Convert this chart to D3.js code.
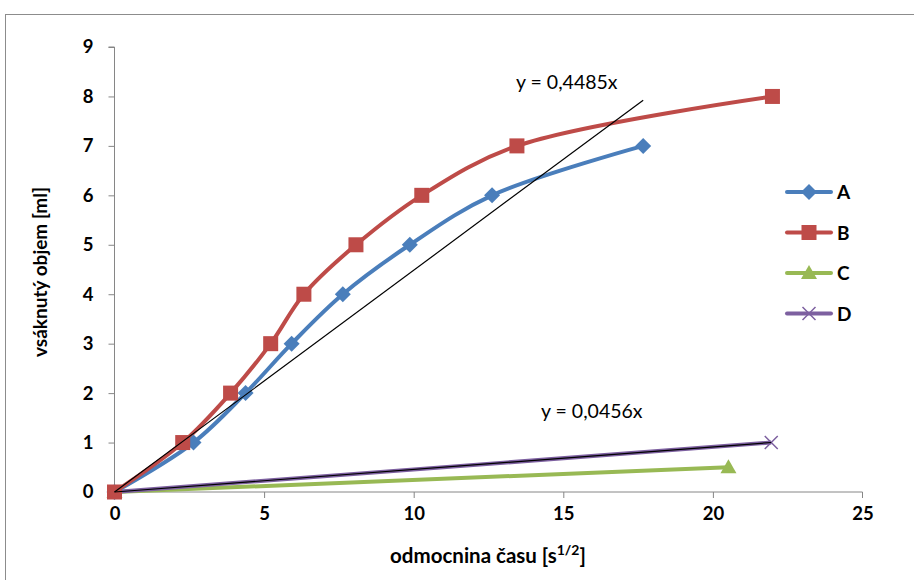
<!DOCTYPE html>
<html><head><meta charset="utf-8">
<script src="https://cdn.jsdelivr.net/npm/d3@7"></script>
<style>body{margin:0;background:#fff}svg{display:block}</style>
</head><body>
<svg id="c" width="914" height="580"></svg>
<script>
const seriesNames = ["A","B","C","D"];
const seriesColors = ["#4A7EBB","#BE4B48","#98B954","#7D60A0"];
const seriesMarkers = ["diamond","square","triangle","x"];
const A_x = [0, 2.64, 4.38, 5.92, 7.63, 9.87, 12.62, 17.67];
const A_y = [0, 1, 2, 3, 4, 5, 6, 7];
const B_x = [0, 2.28, 3.88, 5.22, 6.33, 8.07, 10.27, 13.45, 21.99];
const B_y = [0, 1, 2, 3, 4, 5, 6, 7, 8];
const C_x = [0, 20.52];
const C_y = [0, 0.5];
const D_x = [0, 21.95];
const D_y = [0, 1];
const xTicks = [0,5,10,15,20,25];
const yTicks = [0,1,2,3,4,5,6,7,8,9];
const trend1 = {slope:0.4485, xmax:17.67, label:"y = 0,4485x"};
const trend2 = {slope:0.0456, xmax:21.95, label:"y = 0,0456x"};
const xTitle = "odmocnina času [s";
const yTitle = "vsáknutý objem [ml]";

const svg = d3.select("#c");
const font = "Lato, 'Open Sans', sans-serif";
svg.append("rect").attr("x",5.5).attr("y",14.5).attr("width",920).attr("height",580).attr("fill","#fff").attr("stroke","#8c8c8c");

const x = d3.scaleLinear().domain([0,25]).range([114.5,862.5]);
const y = d3.scaleLinear().domain([0,9]).range([492,47]);

const xa = svg.append("g").attr("transform","translate(0,492)").call(d3.axisBottom(x).tickValues(xTicks).tickSize(6).tickPadding(9));
const ya = svg.append("g").attr("transform","translate(114.5,0)").call(d3.axisLeft(y).tickValues(yTicks).tickSize(6).tickPadding(15));
[xa,ya].forEach(a=>{
  a.selectAll("path,line").attr("stroke","#868686");
  a.selectAll("text").attr("font-family",font).attr("font-weight","bold").attr("font-size",18.5).attr("fill","#000");
});
xa.select(".domain").attr("d","M114.5,0H862.5V6");
xa.selectAll(".tick").filter(d=>d===25||d===0).select("line").remove();
ya.select(".domain").attr("d","M-6,"+y(9)+"H0V"+y(0));

const series = [[A_x,A_y],[B_x,B_y],[C_x,C_y],[D_x,D_y]];
const line = d3.line().x(d=>x(d[0])).y(d=>y(d[1])).curve(d3.curveCatmullRom.alpha(0.5));

function marker(g, type, cx, cy, col){
  if(type==="diamond") g.append("path").attr("d",`M${cx},${cy-8}L${cx+8},${cy}L${cx},${cy+8}L${cx-8},${cy}Z`).attr("fill",col);
  else if(type==="square") g.append("rect").attr("x",cx-7.5).attr("y",cy-7.5).attr("width",15).attr("height",15).attr("fill",col);
  else if(type==="triangle") g.append("path").attr("d",`M${cx},${cy-8}L${cx+8},${cy+6}L${cx-8},${cy+6}Z`).attr("fill",col);
  else g.append("path").attr("d",`M${cx-6.5},${cy-6.5}L${cx+6.5},${cy+6.5}M${cx+6.5},${cy-6.5}L${cx-6.5},${cy+6.5}`).attr("stroke",col).attr("stroke-width",1.5);
}

const order=[2,3,0,1];
order.forEach(i=>{
  const pts = series[i][0].map((v,k)=>[v,series[i][1][k]]);
  svg.append("path").attr("d",line(pts)).attr("fill","none").attr("stroke",seriesColors[i]).attr("stroke-width",4).attr("stroke-linejoin","round");
});
order.forEach(i=>{
  const g = svg.append("g");
  series[i][0].forEach((v,k)=>marker(g,seriesMarkers[i],x(v),y(series[i][1][k]),seriesColors[i]));
});

[trend1,trend2].forEach(t=>{
  svg.append("line").attr("x1",x(0)).attr("y1",y(0)).attr("x2",x(t.xmax)).attr("y2",y(t.slope*t.xmax)).attr("stroke","#000").attr("stroke-width",1.2);
});
svg.append("text").attr("x",516).attr("y",89).attr("font-family",font).attr("font-size",19.5).text(trend1.label);
svg.append("text").attr("x",541).attr("y",418).attr("font-family",font).attr("font-size",19.5).text(trend2.label);

// legend
seriesNames.forEach((n,i)=>{
  const ly = 192 + i*40.5;
  svg.append("line").attr("x1",787).attr("x2",831).attr("y1",ly).attr("y2",ly).attr("stroke",seriesColors[i]).attr("stroke-width",4).attr("stroke-linecap","round");
  marker(svg, seriesMarkers[i], 809, ly, seriesColors[i]);
  svg.append("text").attr("x",837).attr("y",ly+7).attr("font-family",font).attr("font-weight","bold").attr("font-size",19).text(n);
});

// titles
const xt = svg.append("text").attr("x",488).attr("y",563).attr("text-anchor","middle").attr("font-family",font).attr("font-weight","bold").attr("font-size",20.5);
xt.append("tspan").text(xTitle);
xt.append("tspan").attr("dy",-8).attr("font-size",14).text("1/2");
xt.append("tspan").attr("dy",8).text("]");
svg.append("text").attr("transform","translate(47,272) rotate(-90)").attr("text-anchor","middle").attr("font-family",font).attr("font-weight","bold").attr("font-size",19).text(yTitle);
</script>
</body></html>
